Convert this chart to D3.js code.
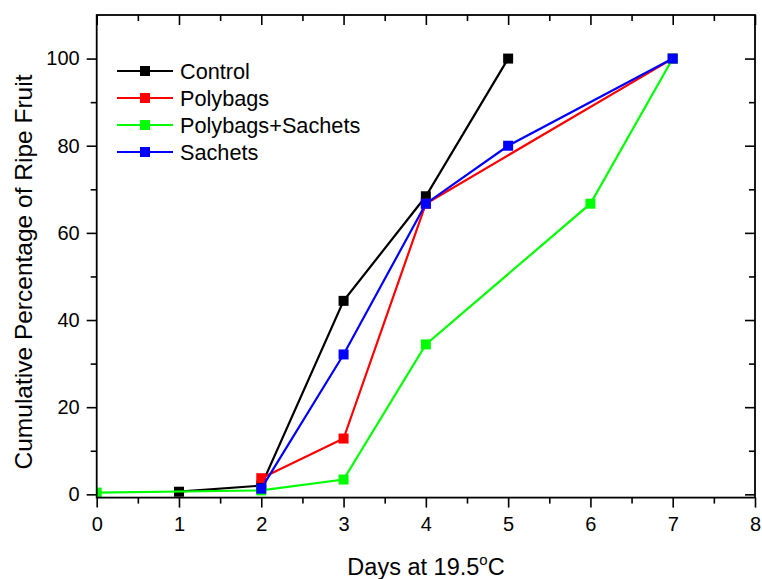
<!DOCTYPE html>
<html>
<head>
<meta charset="utf-8">
<script src="https://cdn.jsdelivr.net/npm/d3@7"></script>
<style>
  html, body { margin: 0; padding: 0; background: #fff; }
  svg { display: block; }
  text { font-family: "Liberation Sans", Arial, Helvetica, sans-serif; fill: #000; }
</style>
</head>
<body>
<svg id="chart" width="762" height="579"></svg>
<script>
// Cumulative percentage of ripe fruit per storage treatment
const seriesNames = ["Control", "Polybags", "Polybags+Sachets", "Sachets"];
const seriesColors = ["#000000", "#ff0000", "#00ff00", "#0000ff"];

const controlDays = [1, 2, 3, 4, 5];
const controlValues = [0.6, 2.0, 44.4, 68.4, 100];

const polybagsDays = [2, 3, 4, 7];
const polybagsValues = [3.7, 12.8, 66.7, 100];

const polySachetsDays = [0, 2, 3, 4, 6, 7];
const polySachetsValues = [0.4, 0.9, 3.4, 34.4, 66.7, 100];

const sachetsDays = [2, 3, 4, 5, 7];
const sachetsValues = [1.3, 32.1, 66.7, 80.0, 100];

const xTicks = [0, 1, 2, 3, 4, 5, 6, 7, 8];
const xMinorTicks = [0.5, 1.5, 2.5, 3.5, 4.5, 5.5, 6.5, 7.5];
const yTicks = [0, 20, 40, 60, 80, 100];
const yMinorTicks = [10, 30, 50, 70, 90];

const series = [
  { name: seriesNames[0], color: seriesColors[0], days: controlDays, values: controlValues },
  { name: seriesNames[1], color: seriesColors[1], days: polybagsDays, values: polybagsValues },
  { name: seriesNames[2], color: seriesColors[2], days: polySachetsDays, values: polySachetsValues },
  { name: seriesNames[3], color: seriesColors[3], days: sachetsDays, values: sachetsValues }
];

const svg = d3.select("#chart");
const plotLeft = 96.7, plotRight = 755, plotTop = 15, plotBottom = 497.6;

const x = d3.scaleLinear().domain([0, 8]).range([plotLeft, plotRight]);
const y = d3.scaleLinear().domain([-0.75, 110]).range([plotBottom, plotTop]);

// clip so markers at the frame edge are cut off
svg.append("defs").append("clipPath").attr("id", "plotClip")
  .append("rect").attr("x", plotLeft).attr("y", plotTop)
  .attr("width", plotRight - plotLeft).attr("height", plotBottom - plotTop);

const fontTick = 20;

function styleAxis(g) {
  g.select(".domain").remove();
  g.selectAll(".tick line").attr("stroke", "#000").attr("stroke-width", 1.6);
}

// bottom axis: labelled majors outward, minors outward
svg.append("g").attr("transform", `translate(0,${plotBottom})`)
  .call(d3.axisBottom(x).tickValues(xTicks).tickSize(10).tickPadding(9).tickFormat(d3.format("d")))
  .call(styleAxis)
  .call(g => g.selectAll("text").attr("font-size", fontTick).style("font-family", "Liberation Sans, Arial, sans-serif"));
svg.append("g").attr("transform", `translate(0,${plotBottom})`)
  .call(d3.axisBottom(x).tickValues(xMinorTicks).tickSize(6).tickFormat(""))
  .call(styleAxis);

// top axis: ticks inward, no labels
svg.append("g").attr("transform", `translate(0,${plotTop})`)
  .call(d3.axisTop(x).tickValues(xTicks).tickSize(-10).tickFormat(""))
  .call(styleAxis);
svg.append("g").attr("transform", `translate(0,${plotTop})`)
  .call(d3.axisTop(x).tickValues(xMinorTicks).tickSize(-6).tickFormat(""))
  .call(styleAxis);

// left axis
svg.append("g").attr("transform", `translate(${plotLeft},0)`)
  .call(d3.axisLeft(y).tickValues(yTicks).tickSize(10).tickPadding(7).tickFormat(d3.format("d")))
  .call(styleAxis)
  .call(g => g.selectAll("text").attr("font-size", fontTick).style("font-family", "Liberation Sans, Arial, sans-serif"));
svg.append("g").attr("transform", `translate(${plotLeft},0)`)
  .call(d3.axisLeft(y).tickValues(yMinorTicks).tickSize(6).tickFormat(""))
  .call(styleAxis);

// right axis: ticks inward
svg.append("g").attr("transform", `translate(${plotRight},0)`)
  .call(d3.axisRight(y).tickValues(yTicks).tickSize(-10).tickFormat(""))
  .call(styleAxis);
svg.append("g").attr("transform", `translate(${plotRight},0)`)
  .call(d3.axisRight(y).tickValues(yMinorTicks).tickSize(-6).tickFormat(""))
  .call(styleAxis);

// data lines and square markers, drawn series by series
const plot = svg.append("g").attr("clip-path", "url(#plotClip)");
const line = d3.line().x(d => x(d[0])).y(d => y(d[1]));
const ms = 10;

series.forEach(s => {
  const pts = s.days.map((d, i) => [d, s.values[i]]);
  const g = plot.append("g");
  g.append("path").datum(pts)
    .attr("d", line).attr("fill", "none")
    .attr("stroke", s.color).attr("stroke-width", 2.2);
  g.selectAll("rect").data(pts).join("rect")
    .attr("x", d => x(d[0]) - ms / 2).attr("y", d => y(d[1]) - ms / 2)
    .attr("width", ms).attr("height", ms)
    .attr("fill", s.color);
});

// frame
svg.append("rect")
  .attr("x", plotLeft).attr("y", plotTop)
  .attr("width", plotRight - plotLeft).attr("height", plotBottom - plotTop)
  .attr("fill", "none").attr("stroke", "#000").attr("stroke-width", 1.8);

// legend
const legend = svg.append("g");
const legendRows = [71, 98, 125, 152];
series.forEach((s, i) => {
  const ly = legendRows[i];
  legend.append("line").attr("x1", 117).attr("x2", 173).attr("y1", ly).attr("y2", ly)
    .attr("stroke", s.color).attr("stroke-width", 2.2);
  legend.append("rect").attr("x", 145 - ms / 2).attr("y", ly - ms / 2)
    .attr("width", ms).attr("height", ms).attr("fill", s.color);
  legend.append("text").attr("x", 180).attr("y", ly).attr("dy", "0.36em")
    .attr("font-size", 21.7).text(s.name);
});

// axis titles
const xt = svg.append("text").attr("x", 426).attr("y", 575)
  .attr("text-anchor", "middle").attr("font-size", 23.5);
xt.append("tspan").text("Days at 19.5");
xt.append("tspan").attr("font-size", 15).attr("dy", -10).text("o");
xt.append("tspan").attr("dy", 10).text("C");

svg.append("text")
  .attr("transform", "translate(31.5,272) rotate(-90)")
  .attr("text-anchor", "middle").attr("font-size", 24.5)
  .text("Cumulative Percentage of Ripe Fruit");
</script>
</body>
</html>
